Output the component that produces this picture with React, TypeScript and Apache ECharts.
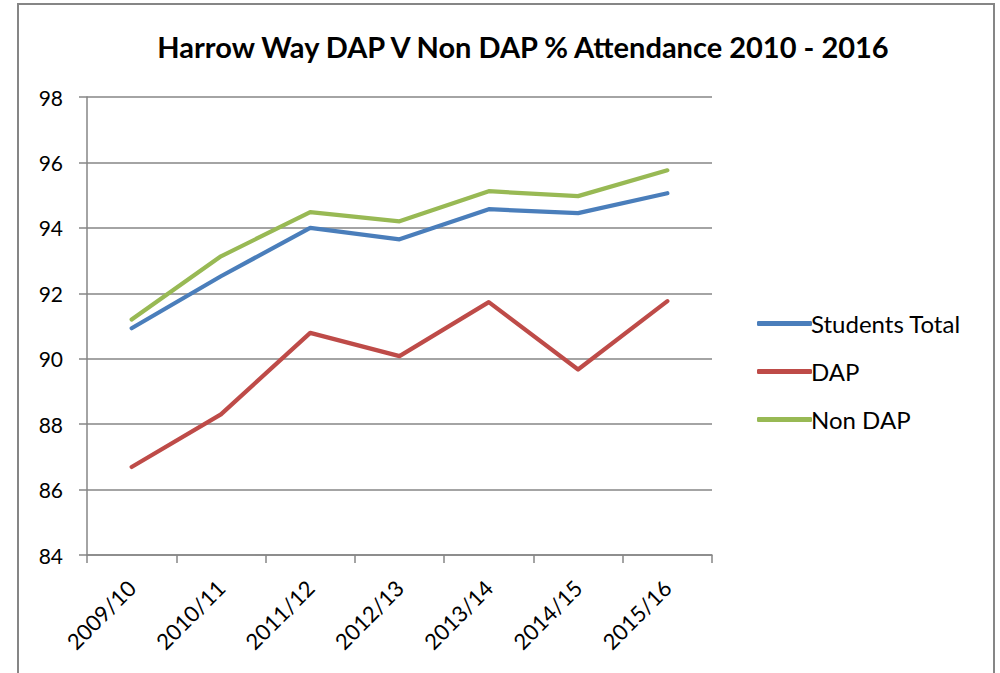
import React, { useEffect, useRef } from "react";
import * as echarts from "echarts";

const categories = ["2009/10", "2010/11", "2011/12", "2012/13", "2013/14", "2014/15", "2015/16"];
const studentsTotal = [90.93, 92.52, 94.0, 93.65, 94.57, 94.45, 95.06];
const dap = [86.69, 88.3, 90.79, 90.08, 91.73, 89.67, 91.76];
const nonDap = [91.2, 93.13, 94.48, 94.2, 95.12, 94.97, 95.76];
const yTicks = { min: 84, max: 98, interval: 2 };

const FONT = "Lato, 'Open Sans', sans-serif";
const GRAY = "#868686";

export default function App() {
  const ref = useRef<HTMLDivElement>(null);
  useEffect(() => {
    if (!ref.current) return;
    const chart = echarts.init(ref.current, null, { renderer: "svg" });
    const mk = (name: string, data: number[], color: string) => ({
      name,
      type: "line",
      data,
      symbol: "none",
      lineStyle: { color, width: 4.2, cap: "round", join: "round" },
      itemStyle: { color },
    });
    chart.setOption({
      animation: false,
      backgroundColor: "#ffffff",
      textStyle: { fontFamily: FONT },
      title: {
        text: "Harrow Way DAP V Non DAP % Attendance 2010 - 2016",
        left: 518,
        textAlign: "center",
        top: 27,
        textStyle: { fontFamily: FONT, fontSize: 29, fontWeight: "bold", color: "#000" },
      },
      grid: { left: 87, top: 97, right: 288, bottom: 118 },
      legend: {
        orient: "vertical",
        left: 752,
        top: 306,
        itemWidth: 55,
        itemHeight: 5,
        itemGap: 23,
        icon: "roundRect",
        textStyle: { fontFamily: FONT, fontSize: 24, color: "#000", padding: [0, 0, 0, -6], lineHeight: 25 },
        data: ["Students Total", "DAP", "Non DAP"],
      },
      xAxis: {
        type: "category",
        data: categories,
        boundaryGap: true,
        axisLine: { lineStyle: { color: GRAY, width: 1.5 } },
        axisTick: { show: true, length: 8, interval: 0, lineStyle: { color: GRAY, width: 1.5 } },
        axisLabel: {
          rotate: 45,
          interval: 0,
          margin: 29,
          fontSize: 22,
          color: "#000",
          fontFamily: FONT,
        },
      },
      yAxis: {
        type: "value",
        min: yTicks.min,
        max: yTicks.max,
        interval: yTicks.interval,
        axisLine: { show: true, lineStyle: { color: GRAY, width: 1.5 } },
        axisTick: { show: true, length: 8, lineStyle: { color: GRAY, width: 1.5 } },
        splitLine: { show: true, lineStyle: { color: GRAY, width: 1.5 } },
        axisLabel: { margin: 24, fontSize: 21, color: "#000", fontFamily: FONT },
      },
      graphic: [
        {
          type: "rect",
          shape: { x: 18, y: 4, width: 976, height: 700 },
          style: { fill: "none", stroke: GRAY, lineWidth: 2 },
          silent: true,
          z: -1,
        },
      ],
      series: [
        mk("Students Total", studentsTotal, "#4A7EBB"),
        mk("DAP", dap, "#BE4B48"),
        mk("Non DAP", nonDap, "#98B954"),
      ],
    });
    return () => chart.dispose();
  }, []);
  return <div ref={ref} style={{ position: "fixed", left: 0, top: 0, width: 1000, height: 673 }} />;
}
